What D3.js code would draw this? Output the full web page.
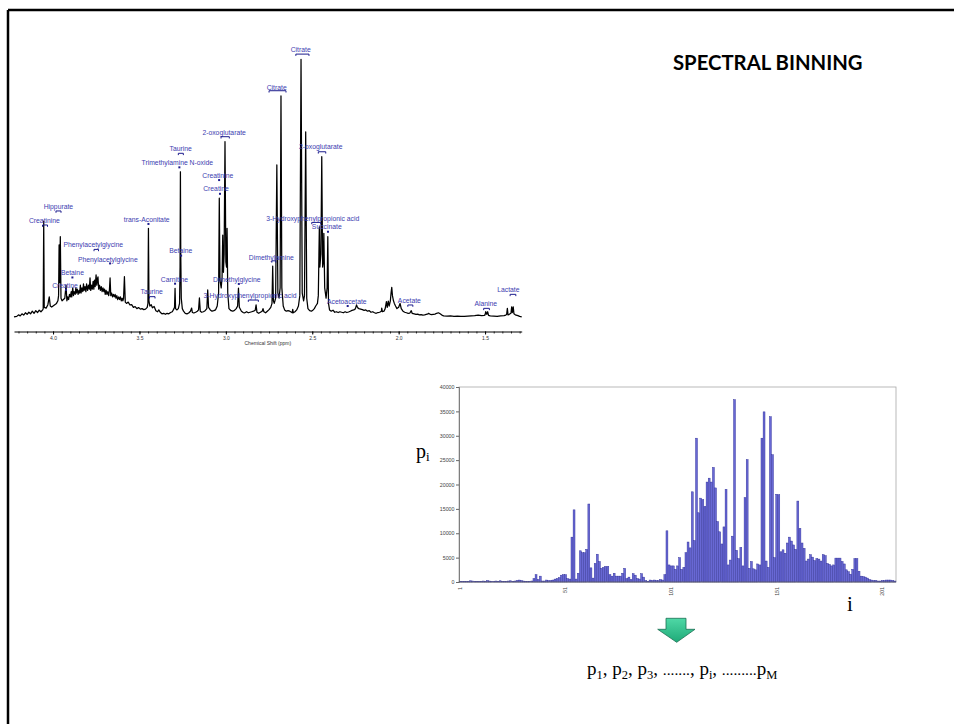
<!DOCTYPE html>
<html><head><meta charset="utf-8">
<script src="https://cdn.jsdelivr.net/npm/d3@7"></script>
<style>body{margin:0;background:#fff;} svg{display:block;background:#fff;}</style>
</head><body>
<svg id="c" width="954" height="724"></svg>
<script>
// ---------- NMR spectrum: [chemical shift (ppm), relative intensity] ----------
const spectrum = [
[4.226,0.8],[4.21,1.0],[4.20,1.6],[4.19,1.2],[4.18,2.0],[4.17,1.5],[4.16,2.4],[4.15,1.8],[4.14,2.6],[4.13,2.0],[4.12,3.0],[4.11,2.2],[4.10,3.2],[4.09,2.5],[4.08,3.4],[4.07,2.8],[4.06,3.5],
[4.057,4],[4.054,37.7],[4.051,4.5],[4.04,4.2],[4.03,5.5],[4.022,8.5],[4.016,5],[4.008,4.6],[4.0,5],[3.99,5.5],[3.98,6],[3.972,7],
[3.968,9],[3.965,28.5],[3.962,14],[3.958,31.7],[3.954,8],[3.948,7],[3.94,7.5],[3.932,8],[3.925,13],
[3.92,7],[3.915,8.5],[3.91,7.5],[3.905,9.5],[3.9,8.5],[3.895,10.5],[3.892,8.5],[3.886,12],[3.882,9],[3.878,10.5],[3.872,9.5],[3.868,12],[3.865,10],[3.86,11.5],[3.855,9.5],[3.85,11],[3.846,10],[3.842,13],[3.838,10],[3.833,12],[3.828,10.5],[3.824,13.5],[3.82,11],[3.815,12.5],[3.81,10.5],[3.806,13.5],[3.8,11],[3.795,13],[3.79,11.5],[3.786,15.8],[3.782,11],[3.778,13],[3.773,11.5],[3.768,14.5],[3.764,11.5],[3.76,15],[3.756,12.5],[3.751,17],[3.747,13],[3.743,15.5],[3.74,16.2],[3.736,11.5],[3.731,13],[3.726,11],[3.721,12.5],[3.716,10.5],[3.711,12],[3.706,10.5],[3.702,11.5],[3.698,9.5],[3.693,11],[3.688,9.5],[3.683,10.5],[3.678,9],[3.674,11],[3.67,15.8],[3.666,9],[3.661,10],[3.656,8.5],[3.651,9.5],[3.646,8.5],[3.641,9.5],[3.636,8],[3.631,9],[3.626,7.5],[3.62,8.5],[3.615,7.5],[3.61,8.5],[3.605,7],[3.6,8],[3.596,7],[3.592,8],[3.587,16.3],[3.582,6.5],
[3.575,6],[3.565,6.5],[3.555,5.4],[3.545,5.5],[3.535,4.5],[3.525,4.8],[3.515,4],[3.505,4.4],[3.495,3.8],[3.485,4],[3.475,3.6],[3.465,3.8],[3.455,4.5],
[3.451,6],[3.448,34.9],[3.445,7],[3.44,5],[3.432,5.5],[3.425,4.3],[3.415,4.8],[3.405,3.2],[3.395,2.8],[3.388,3.5],[3.38,2.6],[3.37,2.0],[3.36,2.2],[3.35,1.8],[3.34,2.2],[3.33,2.0],[3.32,2.5],[3.31,2.8],[3.3,4],
[3.297,4.5],[3.294,11.8],[3.291,4],[3.284,3.5],[3.275,4],[3.268,6],[3.265,20],[3.263,56.7],[3.261,25],[3.258,8],[3.252,4],[3.245,3],[3.235,2.2],[3.225,2],[3.215,2.3],[3.205,3],[3.198,4.2],[3.194,2.5],[3.185,2.3],[3.175,2.6],[3.165,3],[3.158,3.5],[3.153,8.1],[3.148,3],[3.14,2.6],[3.13,2.8],[3.12,3.2],[3.11,4],[3.105,11.2],[3.1,4.5],[3.09,3.5],[3.08,3],[3.07,3.2],[3.06,3.5],[3.05,5],
[3.042,10],[3.038,46.5],[3.034,15],[3.027,12],[3.022,16],[3.018,32.3],[3.014,18],[3.01,25],[3.005,68.3],[3.0,22],[2.996,20],[2.993,34.9],[2.989,10],[2.982,4],[2.97,3.2],[2.96,3],[2.95,3.3],[2.94,4],[2.932,5],[2.927,11.9],[2.922,4.5],[2.91,3],[2.9,2.5],[2.89,2.4],[2.88,2.8],[2.87,2.4],[2.86,2.6],[2.85,2.8],[2.84,3],[2.83,3.4],[2.825,5.4],[2.82,2.6],[2.81,2.2],[2.8,2.6],[2.79,3],[2.785,4],[2.78,2.8],[2.77,2.4],[2.76,3],[2.75,3.6],[2.74,4.5],
[2.733,6],[2.729,20.4],[2.725,7],[2.72,6],[2.712,8],[2.705,59.3],[2.699,10],[2.692,8],[2.686,12],[2.681,85.9],[2.676,12],[2.668,5],[2.66,3.5],[2.65,3],[2.64,3.2],[2.63,3],[2.62,2.6],[2.616,2.4],[2.613,3.7],[2.61,2.4],[2.6,2.8],[2.59,3.5],[2.58,5],[2.572,9],[2.565,100],[2.558,10],[2.55,7],[2.545,9],[2.538,72.1],[2.532,8],[2.525,4],[2.515,3.2],[2.505,3],[2.495,3.5],[2.488,4],[2.48,5],[2.476,5.4],[2.47,6],[2.465,9],[2.459,35.5],[2.456,20],[2.45,25],[2.445,62.5],[2.44,20],[2.436,22],[2.433,33],[2.428,12],[2.42,8],[2.414,12],[2.41,31.7],[2.406,6],[2.4,3.5],[2.39,3],[2.38,3.4],[2.37,2.6],[2.36,2.8],[2.35,2.5],[2.34,2.8],[2.33,2.6],[2.32,2.4],[2.31,2.8],[2.3,2.5],[2.29,2.7],[2.28,3],[2.27,3.3],[2.26,3.5],[2.252,3.8],[2.247,4.6],[2.244,5.4],[2.24,4.8],[2.235,4.2],[2.23,4],[2.22,3.8],[2.21,3.6],[2.2,3.3],[2.19,3.5],[2.18,3],[2.17,3.2],[2.16,2.6],[2.15,2.8],[2.14,2.4],[2.13,2.2],[2.12,2.5],[2.11,2.6],[2.1,3],[2.098,4.2],[2.094,2.8],[2.085,3],[2.078,4],[2.071,6.7],[2.066,4.5],[2.06,6.9],[2.055,5],[2.048,7],[2.044,10],[2.04,12.2],[2.036,9],[2.03,7],[2.025,6],[2.018,5],[2.01,4],[2.0,4.5],[1.992,6],[1.985,4],[1.975,3],[1.965,2.6],[1.955,2.4],[1.945,2.2],[1.935,2.3],[1.927,3.2],[1.922,2.2],[1.91,2],[1.9,1.8],[1.89,1.9],[1.88,1.6],[1.87,1.7],[1.86,1.5],[1.85,1.6],[1.84,1.8],[1.83,2.0],[1.828,2.2],[1.82,1.9],[1.81,1.7],[1.8,1.8],[1.79,1.9],[1.78,2.2],[1.77,2.4],[1.76,2.0],[1.75,1.5],[1.74,1.2],[1.72,1.1],[1.7,1.2],[1.68,1.0],[1.66,1.1],[1.64,1.0],[1.62,1.0],[1.6,1.1],[1.58,1.2],[1.56,1.3],[1.54,1.5],[1.52,1.3],[1.505,1.4],[1.5,1.6],[1.496,2.8],[1.49,1.8],[1.485,2.8],[1.48,1.4],[1.47,1.2],[1.45,1.1],[1.43,1.0],[1.41,1.2],[1.39,1.3],[1.38,1.5],[1.375,1.8],[1.371,4.1],[1.367,1.6],[1.36,1.8],[1.35,2.2],[1.346,4.7],[1.342,2.5],[1.337,4.7],[1.333,2],[1.325,1.6],[1.31,1.3],[1.3,1.0],[1.288,0.8]
];
const specTicks = [4.0, 3.5, 3.0, 2.5, 2.0, 1.5];
const specMinorStep = 0.05;
const specAxisTitle = "Chemical Shift (ppm)";
// metabolite labels: [text, ppm of text centre, intensity level of text centre]
const specLabels = [
["Creatinine",4.05,37.7],["Hippurate",3.969,43.2],["Phenylacetylglycine",3.767,28.5],["Phenylacetylglycine",3.683,23.0],
["Betaine",3.888,17.7],["Creatine",3.931,12.7],["trans-Aconitate",3.458,38.1],["Taurine",3.429,10.5],
["Betaine",3.261,26.2],["Carnitine",3.298,15.3],["Dimethylglycine",2.937,15.3],["Citrate",2.567,103.6],
["Citrate",2.706,89.2],["2-oxoglutarate",3.010,71.6],["Taurine",3.261,65.5],["Trimethylamine N-oxide",3.281,60.1],
["Creatinine",3.047,55.1],["Creatine",3.057,50.1],["2-oxoglutarate",2.451,66.2],["3-Hydroxyphenylpropionic acid",2.497,38.8],
["Succinate",2.416,35.4],["Dimethylamine",2.737,23.8],["3-Hydroxyphenylpropionic acid",2.86,8.9],["Acetoacetate",2.30,6.7],
["Acetate",1.938,7.0],["Alanine",1.496,5.8],["Lactate",1.365,11.2]
];
// multiplet brackets: [ppm left, ppm right, level]
const specBrackets = [
[4.061,4.032,36.2],[3.983,3.954,41.6],[3.763,3.737,26.8],[3.442,3.41,8.6],[2.595,2.519,102.0],[2.75,2.652,87.9],
[3.028,2.98,70.2],[3.275,3.246,63.8],[2.465,2.422,64.4],[2.503,2.451,37.2],[2.734,2.711,22.4],[2.87,2.812,7.3],
[1.947,1.918,5.4],[1.508,1.475,4.1],[1.355,1.322,9.5]
];
// singlet markers: [ppm, level]
const specDots = [
[3.67,21.4],[3.888,16.0],[3.925,11.2],[3.448,36.6],[3.259,24.4],[3.294,13.6],[2.925,13.5],
[3.269,58.4],[3.039,53.5],[3.034,48.2],[2.409,33.6],[2.295,5.0]
];

// ---------- Binned spectrum: bin intensities p_i ----------
const binValues = [
150,100,150,100,150,250,200,150,150,100,150,200,150,300,200,150,100,200,150,250,150,150,100,200,250,150,200,300,400,300,200,150,100,150,200,
700,1500,500,1200,200,200,400,300,300,400,600,700,900,1400,1500,1500,700,600,
9200,14800,600,1800,6400,6000,6000,6700,16000,
2900,800,3800,5700,4200,2800,3000,3200,3200,1500,1200,1800,1200,1200,1200,1800,2800,700,1000,500,1700,1400,700,600,1700,1000,300,100,400,300,400,300,300,500,400,1500,
10500,
3500,3300,3300,2600,3300,5000,2600,3000,6000,8200,7000,
18500,8500,29500,14200,17200,16900,15500,20500,21300,20500,23500,19300,12400,10300,7800,11300,19000,3500,4500,9400,
37400,6500,4800,7100,3300,17300,25100,2800,4200,2700,2500,3700,3500,29500,34900,4300,3000,33900,26100,5000,
18000,17900,6200,6600,5900,8000,9200,8400,7600,6700,
16600,11000,8000,6900,4300,4700,5600,5100,4400,4800,4700,4300,5600,5400,3800,3600,3300,3500,4900,4900,4900,4200,3700,2500,2100,1600,2600,4800,4800,2200,1200,1100,1000,800,500,400,300,300,200,200,300,300,400,400,400,300,200
];
const binTickLabels = [1, 51, 101, 151, 201];
const binYTicks = [0,5000,10000,15000,20000,25000,30000,35000,40000];

const titleText = "SPECTRAL BINNING";
// [text, kind] kind: 0 normal, 1 subscript, 2 small dots
const formulaSegments = [["p",0],["1",1],[", p",0],["2",1],[", p",0],["3",1],[", ",0],[".......",2],[", p",0],["i",1],[", ",0],[".........",2],["p",0],["M",1]];

// ================= drawing =================
const svg = d3.select("#c");

// slide frame (top and left rules)
svg.append("line").attr("x1",8).attr("y1",10).attr("x2",954).attr("y2",10).attr("stroke","#000").attr("stroke-width",2.5);
svg.append("line").attr("x1",8).attr("y1",10).attr("x2",8).attr("y2",724).attr("stroke","#000").attr("stroke-width",2.5);

// title
svg.append("text").attr("x",673).attr("y",70).text(titleText)
  .attr("font-family","Lato, 'Liberation Sans', sans-serif").attr("font-weight",700).attr("font-size",20.3).attr("fill","#000");

// ---- spectrum ----
const xS = d3.scaleLinear().domain([4.226, 1.288]).range([14, 521.7]);
const yS = d3.scaleLinear().domain([0, 100]).range([319, 59.3]);
const axisY = 331.5;

svg.append("path").datum(spectrum)
  .attr("d", d3.line().x(d=>xS(d[0])).y(d=>yS(d[1])))
  .attr("fill","none").attr("stroke","#000").attr("stroke-width",1.25).attr("stroke-linejoin","round");

const minorTicks = d3.range(Math.ceil(1.288/specMinorStep)*specMinorStep, 4.226, specMinorStep);
const gMinor = svg.append("g").attr("transform",`translate(0,${axisY})`)
  .call(d3.axisBottom(xS).tickValues(minorTicks).tickSize(2).tickFormat(""));
gMinor.select(".domain").remove();
gMinor.selectAll("line").attr("stroke","#000").attr("stroke-width",0.8);
const gMajor = svg.append("g").attr("transform",`translate(0,${axisY})`)
  .call(d3.axisBottom(xS).tickValues(specTicks).tickSize(3).tickSizeOuter(0).tickPadding(1.5).tickFormat(d3.format(".1f")));
gMajor.select(".domain").attr("stroke","#000").attr("stroke-width",1);
gMajor.selectAll("line").attr("stroke","#000");
gMajor.selectAll("text").attr("font-family","Liberation Sans, Arial, sans-serif").attr("font-size",5).attr("fill","#333");
svg.append("text").attr("x",(xS.range()[0]+xS.range()[1])/2).attr("y",344.5).attr("text-anchor","middle")
  .attr("font-family","Liberation Sans, Arial, sans-serif").attr("font-size",5).attr("fill","#333").text(specAxisTitle);

// labels
const labCol = "#3d3db0", markCol = "#1c1c8c";
svg.append("g").selectAll("text").data(specLabels).join("text")
  .attr("x",d=>xS(d[1])).attr("y",d=>yS(d[2])+2.4).attr("text-anchor","middle")
  .attr("font-family","Liberation Sans, Arial, sans-serif").attr("font-size",6.8).attr("fill",labCol).text(d=>d[0]);
svg.append("g").selectAll("path").data(specBrackets).join("path")
  .attr("d",d=>{const y=yS(d[2]);return `M${xS(d[0])},${y+1.8}V${y}H${xS(d[1])}V${y+1.8}`;})
  .attr("fill","none").attr("stroke",markCol).attr("stroke-width",1);
svg.append("g").selectAll("rect").data(specDots).join("rect")
  .attr("x",d=>xS(d[0])-1).attr("y",d=>yS(d[1])-1).attr("width",2).attr("height",2).attr("fill",markCol);

// ---- bar chart ----
const bins = binValues.map((v,i)=>({i:i+1,v}));
const xB = d3.scaleBand().domain(bins.map(d=>d.i)).range([459, 896]).paddingInner(0.1).paddingOuter(0.05);
const yB = d3.scaleLinear().domain([0, 40000]).range([582, 387]);

svg.append("rect").attr("x",459).attr("y",387).attr("width",437).attr("height",195)
  .attr("fill","none").attr("stroke","#a8a8a8").attr("stroke-width",0.8);

svg.append("g").selectAll("rect").data(bins).join("rect")
  .attr("x",d=>xB(d.i)).attr("width",xB.bandwidth())
  .attr("y",d=>yB(d.v)).attr("height",d=>yB(0)-yB(d.v))
  .attr("fill","#6868d4").attr("stroke","#30309a").attr("stroke-width",0.45);

const gy = svg.append("g").attr("transform","translate(459,0)")
  .call(d3.axisLeft(yB).tickValues(binYTicks).tickSize(3).tickPadding(1.5).tickFormat(d3.format("d")));
gy.select(".domain").attr("stroke","#666").attr("stroke-width",0.8);
gy.selectAll("line").attr("stroke","#666");
gy.selectAll("text").attr("font-family","Liberation Sans, Arial, sans-serif").attr("font-size",5.3).attr("fill","#444");

svg.append("line").attr("x1",459).attr("x2",896).attr("y1",582).attr("y2",582).attr("stroke","#666").attr("stroke-width",0.8);
svg.append("g").selectAll("text").data(binTickLabels).join("text")
  .attr("transform",d=>`translate(${xB(d)+xB.bandwidth()/2+1.8},587) rotate(-90)`)
  .attr("text-anchor","end").attr("font-family","Liberation Sans, Arial, sans-serif").attr("font-size",5.3).attr("fill","#444")
  .text(d=>d);

// axis symbols
const serif = "Liberation Serif, 'Times New Roman', serif";
const pl = svg.append("text").attr("x",416).attr("y",458).attr("font-family",serif).attr("font-size",20).attr("fill","#000");
pl.append("tspan").text("p");
pl.append("tspan").attr("dy",3).attr("font-size",13).text("i");
svg.append("text").attr("x",847).attr("y",611).attr("font-family",serif).attr("font-size",21).attr("fill","#000").text("i");

// green arrow
const arrowShape = [[666,618.3],[686,618.3],[686,629.3],[695,629.3],[676.7,642.3],[657.7,629.3],[666,629.3]];
const defs = svg.append("defs");
const gr = defs.append("linearGradient").attr("id","ga").attr("x1",0).attr("y1",0).attr("x2",0).attr("y2",1);
gr.append("stop").attr("offset","0%").attr("stop-color","#4fd8a6");
gr.append("stop").attr("offset","100%").attr("stop-color","#1faa78");
svg.append("path").attr("d",d3.line()(arrowShape)+"Z").attr("fill","url(#ga)").attr("stroke","#1b6e52").attr("stroke-width",0.8);

// formula
const ft = svg.append("text").attr("x",587).attr("y",675).attr("font-family",serif).attr("font-size",19).attr("fill","#000");
let prevSub = false;
formulaSegments.forEach(([t,k])=>{
  const sp = ft.append("tspan").text(t);
  const isSub = k === 1;
  if (k === 1) sp.attr("font-size",12.5);
  if (k === 2) sp.attr("font-size",15.5);
  if (isSub !== prevSub) sp.attr("dy", isSub ? 4 : -4);
  prevSub = isSub;
});
</script>
</body></html>
